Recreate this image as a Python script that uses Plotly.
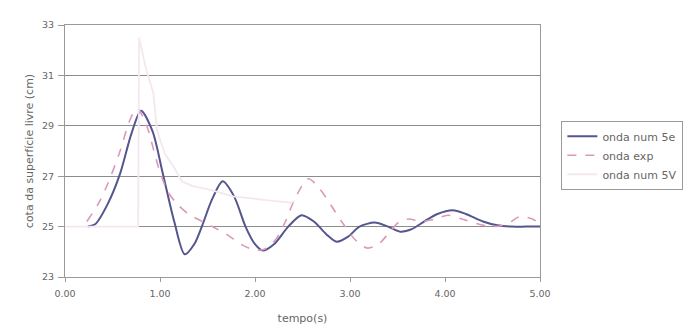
import plotly.graph_objects as go

# onda num 5e (solid navy)
t_num5e = [0.24, 0.32, 0.45, 0.58, 0.70, 0.80, 0.92, 1.03, 1.15, 1.26, 1.36, 1.44, 1.55, 1.66, 1.78,
           1.90, 2.00, 2.08, 2.20, 2.35, 2.49, 2.62, 2.75, 2.86, 2.98, 3.10, 3.26, 3.40, 3.53, 3.65,
           3.78, 3.92, 4.08, 4.22, 4.40, 4.55, 4.70, 4.85, 5.00]
y_num5e = [25.0, 25.1, 25.9, 27.1, 28.7, 29.6, 28.8, 27.1, 25.2, 23.9, 24.3, 25.0, 26.1, 26.8, 26.2,
           25.0, 24.3, 24.05, 24.3, 25.0, 25.45, 25.2, 24.7, 24.4, 24.6, 25.0, 25.16, 25.0, 24.8, 24.9,
           25.2, 25.5, 25.65, 25.5, 25.2, 25.05, 25.0, 25.0, 25.0]

# onda exp (dashed pink)
t_exp = [0.23, 0.35, 0.45, 0.58, 0.68, 0.76, 0.86, 0.98, 1.08, 1.18, 1.30, 1.42, 1.55, 1.70, 1.85,
         2.00, 2.10, 2.22, 2.32, 2.42, 2.56, 2.68, 2.80, 2.93, 3.05, 3.18, 3.30, 3.42, 3.52, 3.62,
         3.75, 3.90, 4.03, 4.18, 4.35, 4.50, 4.65, 4.79, 4.92, 5.00]
y_exp = [25.2, 25.9, 26.7, 28.0, 29.2, 29.7, 29.0, 27.4, 26.4, 25.9, 25.5, 25.25, 25.0, 24.7, 24.3,
         24.07, 24.1, 24.5, 25.2, 26.1, 26.9, 26.5, 25.85, 25.1, 24.5, 24.15, 24.3, 24.8, 25.2, 25.3,
         25.2, 25.3, 25.45, 25.3, 25.1, 25.0, 25.1, 25.4, 25.3, 25.1]

# onda num 5V (pale pink)
t_num5v = [0.00, 0.25, 0.50, 0.77, 0.78, 0.85, 0.93, 0.97, 1.05, 1.14, 1.23, 1.35, 1.49, 1.77, 2.12,
           2.37, 2.42]
y_num5v = [25.0, 25.0, 25.0, 25.0, 32.5, 31.3, 30.3, 28.8, 27.9, 27.4, 26.8, 26.6, 26.5, 26.2, 26.05,
           25.95, 26.0]

x_ticks = [0, 1, 2, 3, 4, 5]
y_ticks = [23, 25, 27, 29, 31, 33]

fig = go.Figure()
fig.add_trace(go.Scatter(x=t_num5e, y=y_num5e, mode="lines", name="onda num 5e",
                         line=dict(color="#55558f", width=2, shape="spline", smoothing=0.8)))
fig.add_trace(go.Scatter(x=t_exp, y=y_exp, mode="lines", name="onda exp",
                         line=dict(color="#dc98ba", width=1.6, dash="dash", shape="spline", smoothing=0.8)))
fig.add_trace(go.Scatter(x=t_num5v, y=y_num5v, mode="lines", name="onda num 5V",
                         line=dict(color="#f4e8ee", width=1.8)))

FONT = "DejaVu Sans, Verdana, sans-serif"
tick_font = dict(family=FONT, size=9.5, color="#666666")
title_font = dict(family=FONT, size=11, color="#666666")
fig.update_layout(
    width=700, height=331,
    margin=dict(l=65, r=160, t=25, b=54),
    paper_bgcolor="white", plot_bgcolor="white",
    font=tick_font,
    showlegend=True,
    legend=dict(x=1.045, y=0.62, xanchor="left", yanchor="top",
                bordercolor="#9a9a9a", borderwidth=1, bgcolor="white",
                font=dict(family=FONT, size=11, color="#666666"),
                tracegroupgap=0, itemwidth=30),
    xaxis=dict(range=[0, 5], tickvals=x_ticks, tickformat=".2f", showgrid=False,
               showline=True, linecolor="#9a9a9a", linewidth=1, mirror=True,
               ticks="outside", ticklen=4, tickcolor="#9a9a9a", zeroline=False,
               tickfont=tick_font, ticklabelstandoff=4, automargin=False,
               title=dict(text="tempo(s)", font=title_font, standoff=15)),
    yaxis=dict(range=[23, 33], tickvals=y_ticks, showgrid=True, gridcolor="#8c8c8c", gridwidth=1,
               showline=True, linecolor="#9a9a9a", linewidth=1, mirror=True,
               ticks="outside", ticklen=6, tickcolor="#9a9a9a", zeroline=False,
               tickfont=tick_font, ticklabelstandoff=2, automargin=False,
               title=dict(text="cota da superfície livre (cm)", font=title_font, standoff=6)),
)

fig.write_html("out.html")
